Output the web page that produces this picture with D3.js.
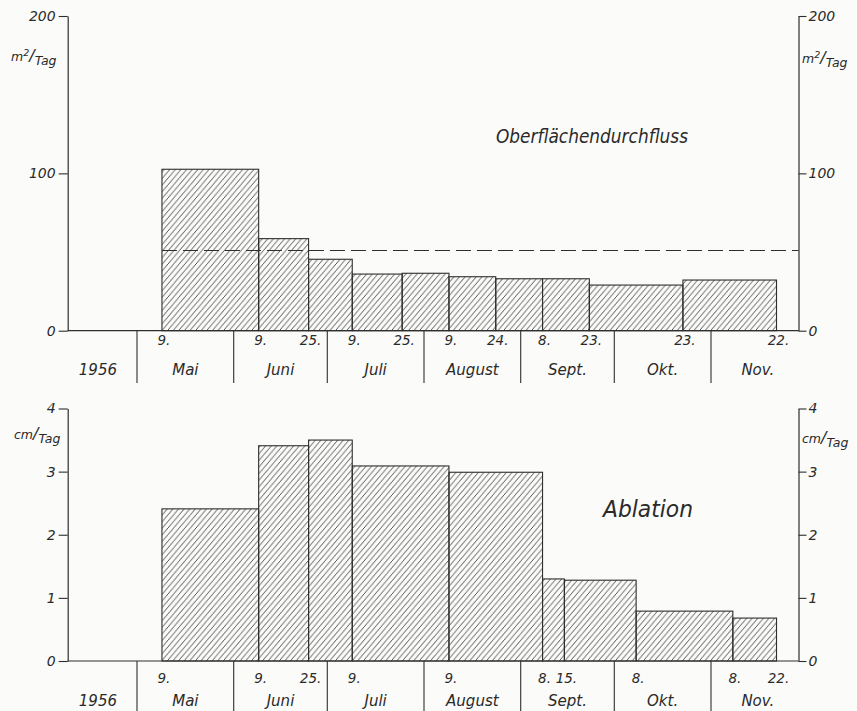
<!DOCTYPE html>
<html><head><meta charset="utf-8">
<script src="https://cdn.jsdelivr.net/npm/d3@7"></script>
<style>
body{margin:0;background:#fbfbf9;}
svg{display:block;}
text{font-family:"DejaVu Sans",sans-serif;font-style:italic;fill:#2a2a2a;}
</style></head><body>
<svg id="chart" width="857" height="711"></svg>
<script>
// ---------- data ----------
const flowStarts = ["1956-05-09","1956-06-09","1956-06-25","1956-07-09","1956-07-25","1956-08-09","1956-08-24","1956-09-08","1956-09-23","1956-10-23"];
const flowEnds   = ["1956-06-09","1956-06-25","1956-07-09","1956-07-25","1956-08-09","1956-08-24","1956-09-08","1956-09-23","1956-10-23","1956-11-22"];
const flowValues = [102.6, 58.5, 45.4, 36.0, 36.5, 34.3, 33.0, 33.0, 29.0, 32.2];
const flowMean = 51;
const flowTicks = [0, 100, 200];
const flowDateTicks = ["1956-05-09","1956-06-09","1956-06-25","1956-07-09","1956-07-25","1956-08-09","1956-08-24","1956-09-08","1956-09-23","1956-10-23","1956-11-22"];

const ablStarts = ["1956-05-09","1956-06-09","1956-06-25","1956-07-09","1956-08-09","1956-09-08","1956-09-15","1956-10-08","1956-11-08"];
const ablEnds   = ["1956-06-09","1956-06-25","1956-07-09","1956-08-09","1956-09-08","1956-09-15","1956-10-08","1956-11-08","1956-11-22"];
const ablValues = [2.41, 3.41, 3.50, 3.09, 2.99, 1.30, 1.28, 0.79, 0.68];
const ablTicks = [0, 1, 2, 3, 4];
const ablDateTicks = ["1956-05-09","1956-06-09","1956-06-25","1956-07-09","1956-08-09","1956-09-08","1956-09-15","1956-10-08","1956-11-08","1956-11-22"];

const months = ["Mai","Juni","Juli","August","Sept.","Okt.","Nov."];
const monthStarts = ["1956-05-01","1956-06-01","1956-07-01","1956-08-01","1956-09-01","1956-10-01","1956-11-01","1956-12-01"];
const yearLabel = "1956";

// ---------- setup ----------
const parse = d3.timeParse("%Y-%m-%d");
const svg = d3.select("#chart");
const ink = "#2e2e2e";
const xL = 67.7, xR = 798.5;

const x = d3.scaleTime()
  .domain([parse("1956-05-01"), parse("1956-11-01")])
  .range([137, 711]);

const defs = svg.append("defs");
const pat = defs.append("pattern").attr("id","hatch")
  .attr("patternUnits","userSpaceOnUse").attr("width",5.6).attr("height",6.6);
pat.append("path").attr("d","M-1,7.78L6.6,-1.18M-6.6,6.6L0,0M0,13.2L12.2,0")
  .attr("stroke","#333").attr("stroke-width",0.85).attr("fill","none");

function drawPanel(opt) {
  const y = d3.scaleLinear().domain([0, opt.ticks[opt.ticks.length-1]]).range([opt.y0, opt.yTop]);
  const g = svg.append("g");

  // bars
  const bars = opt.starts.map((s,i)=>({s:parse(s), e:parse(opt.ends[i]), v:opt.values[i]}));
  g.selectAll("rect.bar").data(bars).join("rect").attr("class","bar")
    .attr("x", d=>x(d.s)).attr("width", d=>x(d.e)-x(d.s))
    .attr("y", d=>y(d.v)).attr("height", d=>opt.y0 - y(d.v))
    .attr("fill","url(#hatch)").attr("stroke",ink).attr("stroke-width",1.1);

  if (opt.mean !== undefined) {
    g.append("line")
      .attr("x1", x(parse(opt.starts[0]))).attr("x2", xR)
      .attr("y1", y(opt.mean)).attr("y2", y(opt.mean))
      .attr("stroke",ink).attr("stroke-width",1.1).attr("stroke-dasharray","15,6");
  }

  // baseline
  g.append("line").attr("x1",xL).attr("x2",xR).attr("y1",opt.y0).attr("y2",opt.y0)
    .attr("stroke",ink).attr("stroke-width",1.2);

  // axes
  const left = g.append("g").attr("transform",`translate(${xL},0)`)
    .call(d3.axisLeft(y).tickValues(opt.ticks).tickFormat(d3.format("d")).tickSize(9).tickSizeOuter(0).tickPadding(3));
  const right = g.append("g").attr("transform",`translate(${xR},0)`)
    .call(d3.axisRight(y).tickValues(opt.ticks).tickFormat(d3.format("d")).tickSize(8).tickSizeOuter(0).tickPadding(2));
  [left,right].forEach(a=>{
    a.select(".domain").attr("stroke",ink).attr("stroke-width",1.2);
    a.selectAll(".tick line").attr("stroke",ink).attr("stroke-width",1.1);
    a.selectAll(".tick text").attr("fill","#2a2a2a").style("font-size","14px")
      .style("font-family","'DejaVu Sans',sans-serif").style("font-style","italic");
  });

  // month separators and labels
  const ms = monthStarts.map(parse);
  g.selectAll("line.sep").data(ms.slice(0, ms.length-1)).join("line").attr("class","sep")
    .attr("x1",d=>x(d)).attr("x2",d=>x(d)).attr("y1",opt.y0).attr("y2",opt.sepEnd)
    .attr("stroke",ink).attr("stroke-width",1.1);
  g.selectAll("text.month").data(months).join("text").attr("class","month")
    .attr("x",(d,i)=>(x(ms[i])+x(ms[i+1]))/2).attr("y",opt.monthY)
    .attr("text-anchor","middle").style("font-size","15px").text(d=>d);
  g.append("text").attr("x",117).attr("y",opt.monthY).attr("text-anchor","end")
    .style("font-size","15px").text(yearLabel);

  // date labels
  g.selectAll("text.date").data(opt.dateTicks.map(parse)).join("text").attr("class","date")
    .attr("x",d=>x(d)+2).attr("y",opt.dateY).attr("text-anchor","middle")
    .style("font-size","13.5px").text(d=>d.getDate()+".");

  // title
  g.append("text").attr("x",opt.titleX).attr("y",opt.titleY).attr("text-anchor","middle")
    .attr("textLength",opt.titleLen).attr("lengthAdjust","spacingAndGlyphs")
    .style("font-size",opt.titleSize+"px").style("font-weight","300").text(opt.title);

  // units
  opt.units.forEach(u=>{
    const t = g.append("text").attr("x",u.x).attr("y",u.y).style("font-size","12.5px");
    t.append("tspan").text(u.a);
    if (u.sup) t.append("tspan").attr("dy",-5).style("font-size","9.5px").text(u.sup);
    t.append("tspan").attr("dy", u.sup?5:0).style("font-size","16px").text("/");
    t.append("tspan").attr("dy",4).text("Tag");
  });
}

drawPanel({
  starts: flowStarts, ends: flowEnds, values: flowValues, mean: flowMean,
  ticks: flowTicks, dateTicks: flowDateTicks,
  y0: 330.7, yTop: 16, sepEnd: 383, dateY: 345, monthY: 375,
  title: "Oberflächendurchfluss", titleX: 592, titleY: 143, titleSize: 20, titleLen: 192,
  units: [{x:11, y:61, a:"m", sup:"2"}, {x:802, y:63, a:"m", sup:"2"}]
});

drawPanel({
  starts: ablStarts, ends: ablEnds, values: ablValues,
  ticks: ablTicks, dateTicks: ablDateTicks,
  y0: 661, yTop: 408.5, sepEnd: 711, dateY: 683, monthY: 706,
  title: "Ablation", titleX: 648, titleY: 517, titleSize: 23, titleLen: 90,
  units: [{x:14, y:439, a:"cm"}, {x:802, y:443, a:"cm"}]
});
</script>
</body></html>
